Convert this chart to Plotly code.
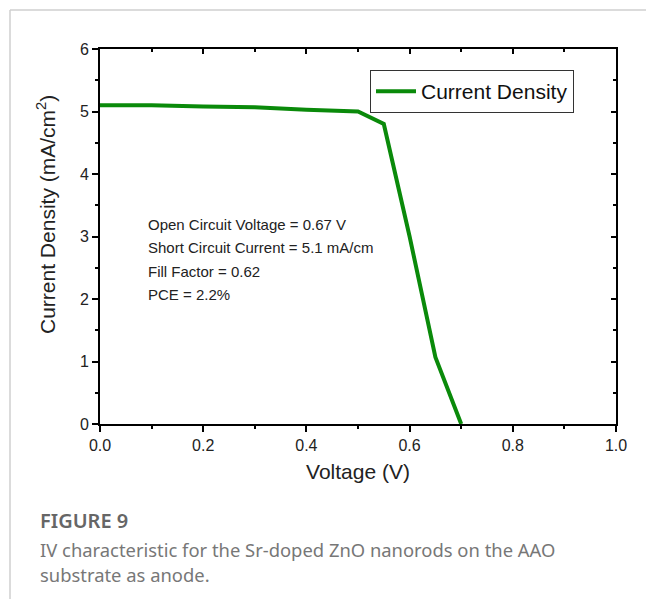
import plotly.graph_objects as go

voltage = [0.0, 0.1, 0.2, 0.3, 0.4, 0.5, 0.55, 0.6, 0.65, 0.70]
current_density = [5.10, 5.10, 5.08, 5.07, 5.03, 5.00, 4.80, 3.00, 1.07, 0.0]
series_name = "Current Density"
x_title = "Voltage (V)"
y_title = "Current Density (mA/cm<sup>2</sup>)"
info_lines = [
    "Open Circuit Voltage = 0.67 V",
    "Short Circuit Current = 5.1 mA/cm",
    "Fill Factor = 0.62",
    "PCE = 2.2%",
]
caption_title = "FIGURE 9"
caption_lines = [
    "IV characteristic for the Sr-doped ZnO nanorods on the AAO",
    "substrate as anode.",
]

W, H = 646, 599
L, R, T, B = 100, 30, 49, 175
pw, ph = W - L - R, H - T - B

def px(x):
    return (x - L) / pw

def py(y):
    return (H - B - y) / ph

fig = go.Figure()
fig.add_trace(go.Scatter(x=voltage, y=current_density, mode="lines", name=series_name,
                         line=dict(color="#0a8a0a", width=4)))
# invisible trace for mirror axes
fig.add_trace(go.Scatter(x=[0, 1], y=[0, 6], xaxis="x2", yaxis="y2", mode="markers",
                         marker=dict(opacity=0), showlegend=False, hoverinfo="skip"))

axfont = dict(family="Liberation Sans, Arial", size=16, color="#222")
titlefont = dict(family="Liberation Sans, Arial", size=21, color="#222")
common = dict(showgrid=False, zeroline=False, showline=True, linecolor="black", linewidth=2)
fig.update_layout(
    width=W, height=H, margin=dict(l=L, r=R, t=T, b=B),
    plot_bgcolor="white", paper_bgcolor="white",
    xaxis=dict(range=[0, 1], tickvals=[0, 0.2, 0.4, 0.6, 0.8, 1.0], ticktext=["0.0", "0.2", "0.4", "0.6", "0.8", "1.0"],
               ticks="outside", ticklen=6, tickwidth=2, tickcolor="black", tickfont=axfont,
               minor=dict(dtick=0.1, ticks="outside", ticklen=3, tickwidth=2, tickcolor="black"),
               title=dict(text=x_title, font=titlefont, standoff=11),
               **common),
    yaxis=dict(range=[0, 6], dtick=1, ticks="outside", ticklen=6, tickwidth=2, tickcolor="black", tickfont=axfont,
               minor=dict(dtick=0.5, ticks="outside", ticklen=3, tickwidth=2, tickcolor="black"),
               **common),
    xaxis2=dict(range=[0, 1], overlaying="x", side="top", dtick=0.2, ticks="inside", ticklen=5, tickwidth=2,
                tickcolor="black", showticklabels=False,
                minor=dict(dtick=0.1, ticks="inside", ticklen=3, tickwidth=2, tickcolor="black"), **common),
    yaxis2=dict(range=[0, 6], overlaying="y", side="right", dtick=1, ticks="inside", ticklen=5, tickwidth=2,
                tickcolor="black", showticklabels=False,
                minor=dict(dtick=0.5, ticks="inside", ticklen=3, tickwidth=2, tickcolor="black"), **common),
    legend=dict(x=px(370), y=py(70), xanchor="left", yanchor="top", bgcolor="white", bordercolor="#333",
                borderwidth=1, font=dict(family="Liberation Sans, Arial", size=21, color="#111"),
                itemwidth=40, tracegroupgap=0),
    showlegend=True,
)

fig.add_annotation(x=px(46), y=py(215), xref="paper", yref="paper", text=y_title, textangle=-90,
                   showarrow=False, xanchor="center", yanchor="middle", font=titlefont)

for i, line in enumerate(info_lines):
    fig.add_annotation(x=px(146), y=py(224 + i * 23.5), xref="paper", yref="paper", text=line, showarrow=False,
                       xanchor="left", yanchor="middle", font=dict(family="Liberation Sans, Arial", size=15, color="#222"))

fig.add_annotation(x=px(38), y=py(520), xref="paper", yref="paper", text=caption_title,
                   showarrow=False, xanchor="left", yanchor="middle",
                   font=dict(family="Noto Sans", size=20, color="#666", weight=600))
for i, line in enumerate(caption_lines):
    fig.add_annotation(x=px(38), y=py(549 + i * 25), xref="paper", yref="paper", text=line, showarrow=False,
                       xanchor="left", yanchor="middle", font=dict(family="Noto Sans", size=18.4, color="#777"))

# page frame lines
fig.add_shape(type="line", xref="paper", yref="paper", x0=px(10), x1=px(646), y0=py(10), y1=py(10),
              line=dict(color="#cfcfcf", width=1.5))
fig.add_shape(type="line", xref="paper", yref="paper", x0=px(10), x1=px(10), y0=py(10), y1=py(599),
              line=dict(color="#cfcfcf", width=1.5))

fig.write_html("out.html")
